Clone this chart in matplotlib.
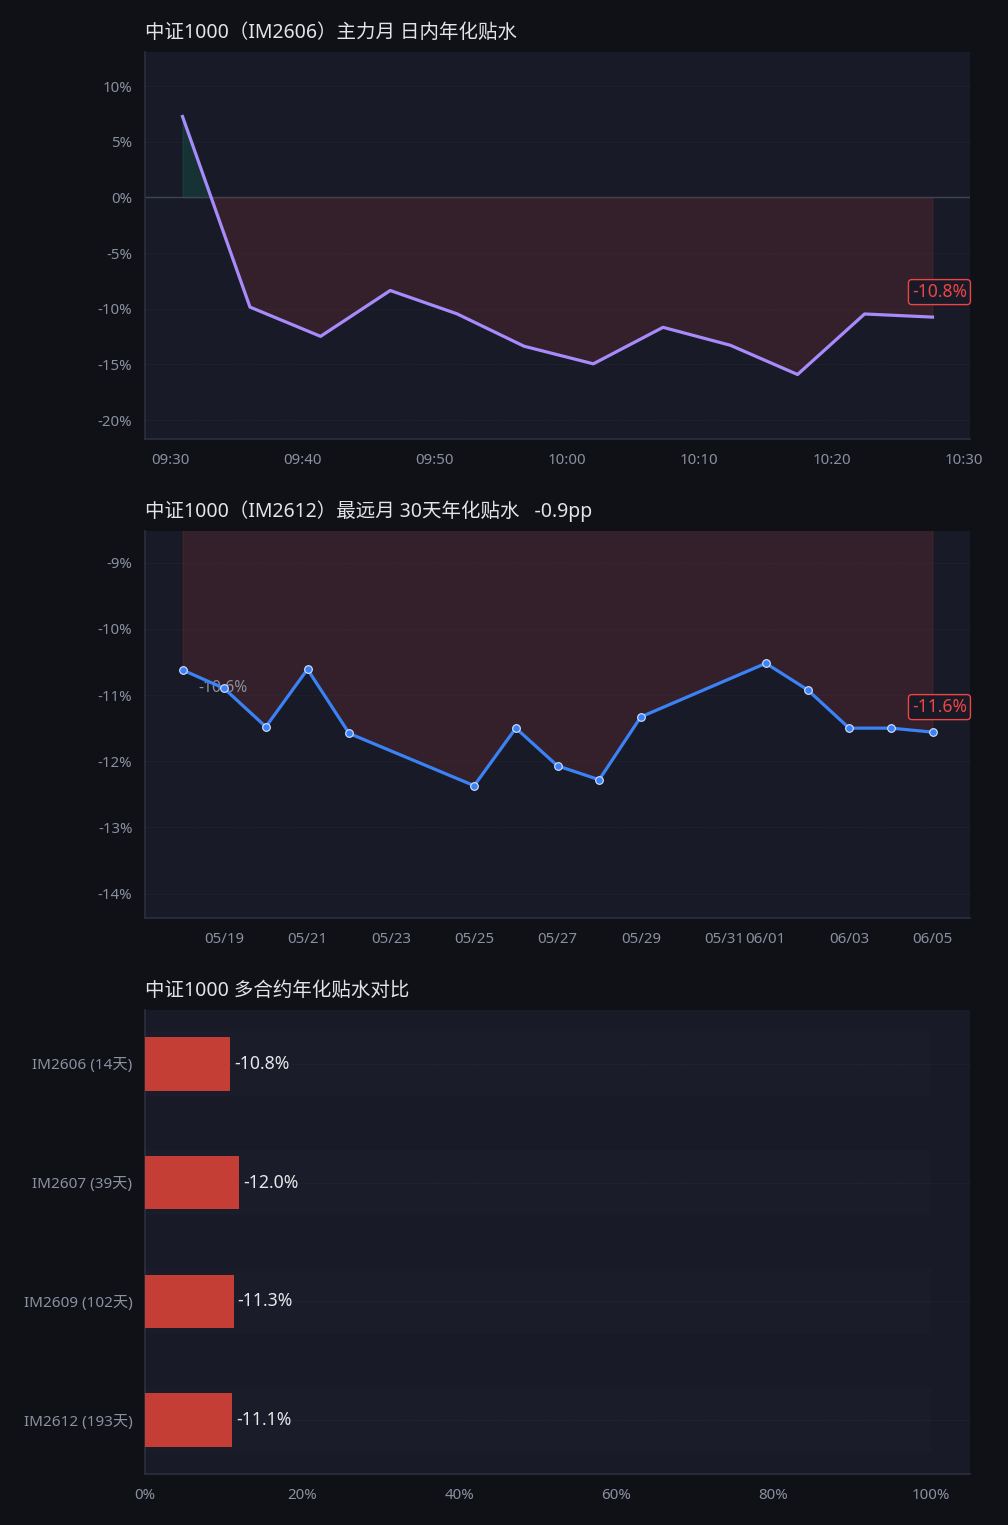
import numpy as np
import pandas as pd
import matplotlib
matplotlib.use("Agg")
import matplotlib.pyplot as plt
import matplotlib.dates as mdates
from matplotlib.ticker import FuncFormatter

plt.rcParams['font.family'] = ['Noto Sans', 'Noto Sans CJK SC', 'DejaVu Sans']

# ---- data ----
# chart 1: IM2606 intraday annualized basis (%)
im2606_times = ["09:30:56", "09:36:02", "09:41:22", "09:46:38", "09:51:40", "09:56:45",
                "10:01:59", "10:07:15", "10:12:20", "10:17:25", "10:22:29", "10:27:37"]
im2606_basis = [7.28, -9.85, -12.48, -8.36, -10.45, -13.37,
                -14.95, -11.67, -13.28, -15.91, -10.47, -10.75]

# chart 2: IM2612 daily 30-day annualized basis (%)
im2612_dates = ["2026-05-18", "2026-05-19", "2026-05-20", "2026-05-21", "2026-05-22",
                "2026-05-25", "2026-05-26", "2026-05-27", "2026-05-28", "2026-05-29",
                "2026-06-01", "2026-06-02", "2026-06-03", "2026-06-04", "2026-06-05"]
im2612_basis = [-10.62, -10.90, -11.48, -10.61, -11.58,
                -12.37, -11.50, -12.07, -12.28, -11.33,
                -10.52, -10.92, -11.50, -11.50, -11.56]

# chart 3: contracts comparison
contracts = ["IM2606", "IM2607", "IM2609", "IM2612"]
days_left = [14, 39, 102, 193]
bar_basis = [-10.8, -12.0, -11.3, -11.1]

# ---- style ----
FIG_BG = "#0f1116"
AX_BG = "#181b27"
TICK_C = "#8b90a0"
TITLE_C = "#e2e4ea"
SPINE_C = "#2b2f3e"
GRID_C = "#202330"
RED = "#ef4444"
GREEN = "#10b981"

W, H = 1008, 1525
fig = plt.figure(figsize=(W / 100, H / 100), dpi=100, facecolor=FIG_BG)


def rect(top, bottom, left=145, right=970):
    return [left / W, (H - bottom) / H, (right - left) / W, (bottom - top) / H]


def style(ax):
    ax.set_facecolor(AX_BG)
    for s in ["top", "right"]:
        ax.spines[s].set_visible(False)
    for s in ["left", "bottom"]:
        ax.spines[s].set_color(SPINE_C)
        ax.spines[s].set_linewidth(1.2)
    ax.tick_params(length=0, labelsize=10.8, colors=TICK_C)
    ax.tick_params(axis="x", pad=10)
    ax.tick_params(axis="y", pad=9)
    ax.grid(axis="y", color=GRID_C, linestyle="--", linewidth=0.6)
    ax.set_axisbelow(True)


def pad_ylim(ax, vals):
    lo, hi = min(vals), max(vals)
    pad = max((hi - lo) * 0.25, 2.0)
    ax.set_ylim(lo - pad, hi + pad)


def last_tag(ax, x, v):
    ax.annotate(f"{v:.1f}%", (x, v), xytext=(5, 18), textcoords="offset points",
                ha="center", va="center", color=RED, fontsize=12.6, annotation_clip=False,
                zorder=6, bbox=dict(boxstyle="round,pad=0.2", fc=AX_BG, ec=RED, lw=1))


pct = FuncFormatter(lambda v, p: f"{v:.0f}%")

# ---- chart 1 ----
ax1 = fig.add_axes(rect(52, 439))
style(ax1)
t1 = pd.to_datetime(["2026-06-05 " + t for t in im2606_times])
v1 = np.array(im2606_basis)
ax1.fill_between(t1, v1, 0, where=v1 >= 0, interpolate=True, color=GREEN, alpha=0.15, lw=0.8)
ax1.fill_between(t1, v1, 0, where=v1 <= 0, interpolate=True, color=RED, alpha=0.13, lw=0.8)
ax1.axhline(0, color="#3f4352", lw=1, zorder=1)
ax1.plot(t1, v1, color="#a78bfa", lw=2.3, zorder=4)
pad_ylim(ax1, v1)
ax1.yaxis.set_major_formatter(pct)
ax1.xaxis.set_major_locator(mdates.MinuteLocator(byminute=range(0, 60, 10)))
ax1.xaxis.set_major_formatter(mdates.DateFormatter("%H:%M"))
last_tag(ax1, t1[-1], v1[-1])
ax1.set_title("中证1000（IM2606）主力月 日内年化贴水", loc="left", color=TITLE_C,
              fontsize=14, pad=10)

# ---- chart 2 ----
ax2 = fig.add_axes(rect(531, 918))
style(ax2)
d2 = pd.to_datetime(im2612_dates)
v2 = np.array(im2612_basis)
ax2.fill_between(d2, v2, 0, color=RED, alpha=0.13, lw=0.8)
ax2.plot(d2, v2, color="#3b82f6", lw=2.3, marker="o", ms=5.5, mfc="#3b82f6",
         mec="#dbe4ff", mew=0.8, zorder=4)
pad_ylim(ax2, v2)
ax2.yaxis.set_major_formatter(pct)
ax2.xaxis.set_major_locator(mdates.DayLocator(bymonthday=range(1, 32, 2)))
ax2.xaxis.set_major_formatter(mdates.DateFormatter("%m/%d"))
ax2.annotate(f"{v2[0]:.1f}%", (d2[0], v2[0]), xytext=(29, -13), textcoords="offset points",
             ha="center", va="center", color=TICK_C, fontsize=11.3, zorder=3)
last_tag(ax2, d2[-1], v2[-1])
chg = v2[-1] - v2[0]
ax2.set_title(f"中证1000（IM2612）最远月 30天年化贴水   {chg:.1f}pp", loc="left",
              color=TITLE_C, fontsize=14, pad=10)

# ---- chart 3 ----
ax3 = fig.add_axes(rect(1010, 1474))
style(ax3)
y = np.arange(len(contracts))
ax3.barh(y, [100] * len(contracts), height=0.55, color="white", alpha=0.01, zorder=1)
ax3.barh(y, np.abs(bar_basis), height=0.45, color="#c43e36", zorder=3)
for yi, b in zip(y, bar_basis):
    ax3.text(abs(b) + 0.5, yi, f"{b:.1f}%", va="center", ha="left", color="#e5e7eb",
             fontsize=12.7, zorder=4)
ax3.set_yticks(y)
ax3.set_yticklabels([f"{c} ({d}天)" for c, d in zip(contracts, days_left)])
ax3.tick_params(axis="y", labelsize=11)
ax3.invert_yaxis()
ax3.set_xlim(0, 105)
ax3.set_xticks(range(0, 101, 20))
ax3.xaxis.set_major_formatter(pct)
ax3.set_title("中证1000 多合约年化贴水对比", loc="left", color=TITLE_C, fontsize=14, pad=10)

fig.savefig("out.png", dpi=100, facecolor=FIG_BG)
plt.close(fig)
